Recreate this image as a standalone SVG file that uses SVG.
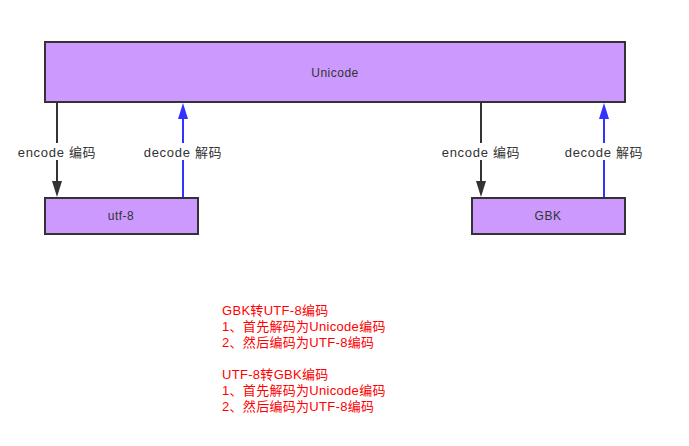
<svg xmlns="http://www.w3.org/2000/svg" width="689" height="446" viewBox="0 0 689 446">
<style>
.box{fill:#cc99ff;stroke:#333;stroke-width:2}
.nt{font-family:"Liberation Sans","Noto Sans CJK SC",sans-serif;font-size:12px;letter-spacing:0.5px;fill:#333;text-anchor:middle;dominant-baseline:central}
.lb{font-family:"Liberation Sans","Noto Sans CJK SC",sans-serif;font-size:13px;letter-spacing:0.7px;fill:#333;text-anchor:middle;dominant-baseline:central}
.enc{stroke:#333;stroke-width:2;fill:none}
.dec{stroke:#3333ff;stroke-width:2;fill:none}
.red{font-family:"Liberation Sans","Noto Sans CJK SC",sans-serif;font-size:13px;letter-spacing:0.3px;fill:#ff0000}
</style>
<rect width="689" height="446" fill="#fff"/>
<g id="connectors">
<path class="enc" d="M57,103 L57,182"/><path d="M52,181 L57,197 L62,181 Z" fill="#333"/>
<path class="dec" d="M183,197 L183,118"/><path d="M178,119 L183,103 L188,119 Z" fill="#3333ff"/>
<path class="enc" d="M481,103 L481,182"/><path d="M476,181 L481,197 L486,181 Z" fill="#333"/>
<path class="dec" d="M604,197 L604,118"/><path d="M599,119 L604,103 L609,119 Z" fill="#3333ff"/>
<rect x="16" y="143" width="82" height="17" fill="#fff"/>
<text class="lb" x="57" y="152">encode 编码</text>
<rect x="142" y="143" width="82" height="17" fill="#fff"/>
<text class="lb" x="183" y="152">decode 解码</text>
<rect x="440" y="143" width="82" height="17" fill="#fff"/>
<text class="lb" x="481" y="152">encode 编码</text>
<rect x="563" y="143" width="82" height="17" fill="#fff"/>
<text class="lb" x="604" y="152">decode 解码</text>
</g>
<g id="unicode"><rect class="box" x="45" y="42" width="580" height="60"/><text class="nt" x="335" y="73">Unicode</text></g>
<g id="utf8"><rect class="box" x="45" y="198" width="153" height="36"/><text class="nt" x="121" y="216">utf-8</text></g>
<g id="gbk"><rect class="box" x="472" y="198" width="153" height="36"/><text class="nt" x="548" y="216">GBK</text></g>
<g id="note">
<text class="red" x="222" y="315">GBK转UTF-8编码</text>
<text class="red" x="222" y="331">1、首先解码为Unicode编码</text>
<text class="red" x="222" y="347">2、然后编码为UTF-8编码</text>
<text class="red" x="222" y="379">UTF-8转GBK编码</text>
<text class="red" x="222" y="395">1、首先解码为Unicode编码</text>
<text class="red" x="222" y="411">2、然后编码为UTF-8编码</text>
</g>
</svg>
